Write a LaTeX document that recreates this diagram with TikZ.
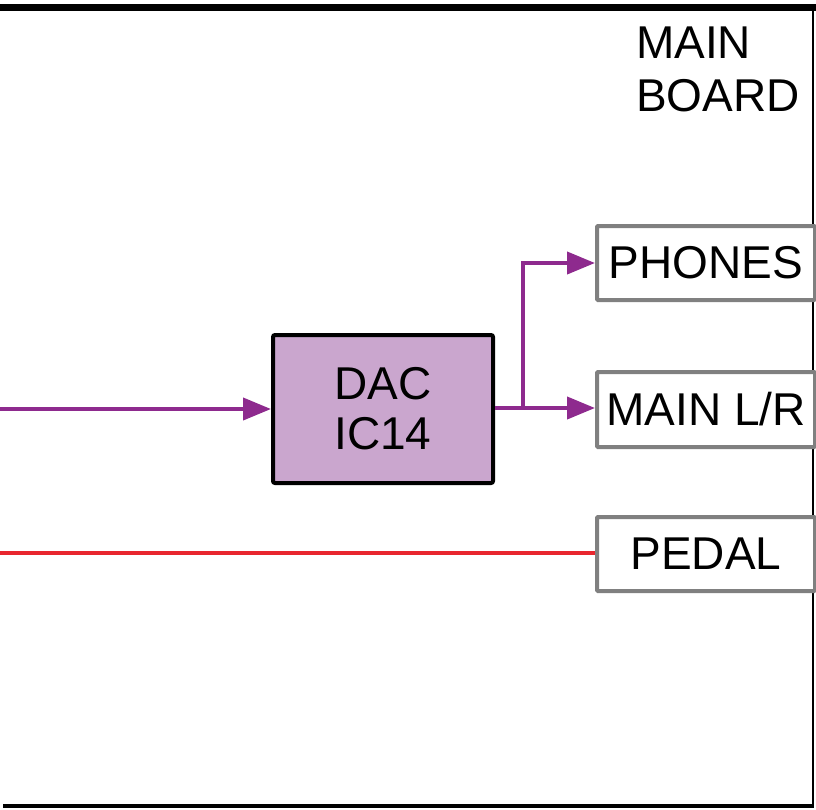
\documentclass[tikz,border=0pt]{standalone}
\usepackage{fontspec}
\setmainfont{Liberation Sans}
\usetikzlibrary{arrows.meta}
\definecolor{sigpurple}{RGB}{142,42,142}
\definecolor{dacfill}{RGB}{202,166,206}
\definecolor{boxgray}{RGB}{128,128,128}
\definecolor{sigred}{RGB}{232,38,46}
\tikzset{
  bigtext/.style={font=\fontsize{46}{50}\selectfont},
  outbox/.style={draw=boxgray, line width=4pt, fill=white, rounded corners=1pt, bigtext, inner sep=0pt},
  dacbox/.style={draw=black, line width=4pt, fill=dacfill, rounded corners=2pt, bigtext, align=center, inner sep=0pt},
  sig/.style={draw=sigpurple, line width=4pt},
  sigarrow/.style={sig, -{Triangle[length=28pt,width=22pt]}},
}
\begin{document}
\begin{tikzpicture}[x=1pt,y=-1pt]
\useasboundingbox (0,0) rectangle (816,809);
% frame
\draw[line width=7pt] (0,7.5) -- (816,7.5);
\draw[line width=2pt] (813,4) -- (813,808);
\draw[line width=3.5pt] (3,806) -- (814,806);
% title
\node[font=\fontsize{46}{53}\selectfont, anchor=north west, align=left, inner sep=0pt] (title) at (636,27) {MAIN\\BOARD};
% DAC
\node[dacbox, minimum width=220pt, minimum height=148pt] (dac) at (383,409) {DAC\\IC14};
% output boxes
\node[outbox, minimum width=218pt, minimum height=74pt] (phones) at (706,263) {PHONES};
\node[outbox, minimum width=218pt, minimum height=75pt] (mainlr) at (706,409.5) {MAIN L/R};
\node[outbox, minimum width=218pt, minimum height=74pt] (pedal) at (706,554) {PEDAL};
% connectors
\coordinate (inL) at (0,409);
\coordinate (inR) at (0,553);
\coordinate (junc) at (523,408);
\draw[sigarrow] (inL) -- (dac.west);
\draw[sig] (dac.east |- junc) -- (junc);
\draw[sigarrow] (junc) -- (mainlr.west |- junc);
\draw[sigarrow] (junc) -- (523,263) -- (phones.west);
\draw[draw=sigred, line width=4pt] (inR) -- (pedal.west |- inR);
\end{tikzpicture}
\end{document}
